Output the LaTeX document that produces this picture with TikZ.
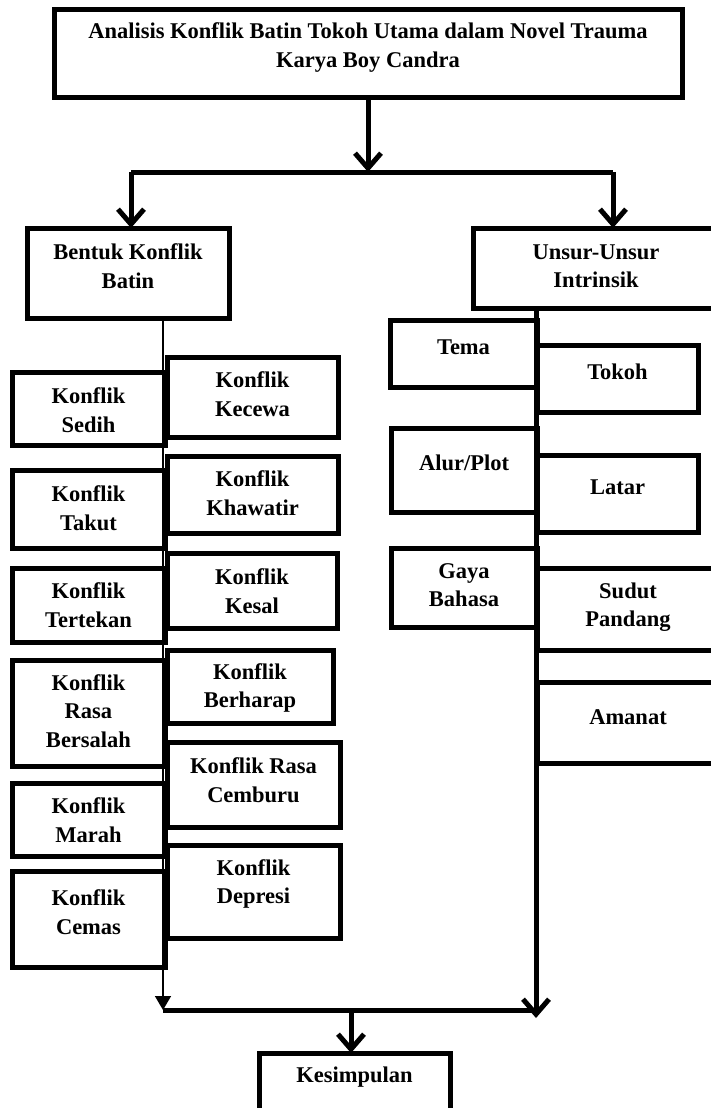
\documentclass[tikz,border=0pt]{standalone}
\usepackage{fontspec}
\setmainfont{Liberation Serif}
\usetikzlibrary{arrows.meta}
\newcommand{\bbox}[7]{%
 \node[bx, minimum width={(#4)-(#2)}, minimum height={(#5)-(#3)}] (#1) at ({((#2)+(#4))/2},{((#3)+(#5))/2}) {};
 \node[txt] (#1-t) at ({((#2)+(#4))/2},#6) {#7};}
\begin{document}
\begin{tikzpicture}[x=1pt,y=-1pt,
 bx/.style={draw, line width=5pt, inner sep=0pt, outer sep=0pt},
 txt/.style={font=\fontsize{22.5}{28.5}\selectfont\bfseries, align=center, inner sep=0pt},
 ln/.style={line width=5pt},
 arr/.style={line width=5pt, -{Straight Barb[length=15pt,width=26pt]}},
 thinarr/.style={line width=1.5pt, -{Triangle[length=14pt,width=16pt]}}]
\path[use as bounding box, clip] (0,0) rectangle (711,1108);
\fill[white] (0,0) rectangle (711,1108);
% title
\bbox{top}{54}{10}{682}{97}{47.5}{Analisis Konflik Batin Tokoh Utama dalam Novel Trauma\\Karya Boy Candra}
\bbox{bentuk}{27}{228}{229}{318}{266}{Bentuk Konflik\\Batin}
\bbox{unsur}{473}{228}{719}{308}{266}{Unsur-Unsur\\Intrinsik}
% left column
\bbox{sedih}{12}{372}{165}{445}{410}{Konflik\\Sedih}
\bbox{takut}{12}{470}{165}{548}{508}{Konflik\\Takut}
\bbox{tertekan}{12}{568}{165}{642}{605}{Konflik\\Tertekan}
\bbox{bersalah}{12}{660}{165}{766}{711}{Konflik\\Rasa\\Bersalah}
\bbox{marah}{12}{783}{165}{856}{820}{Konflik\\Marah}
\bbox{cemas}{12}{871}{165}{967}{912}{Konflik\\Cemas}
% second column
\bbox{kecewa}{167}{357}{338}{437}{394}{Konflik\\Kecewa}
\bbox{khawatir}{167}{456}{338}{533}{493}{Konflik\\Khawatir}
\bbox{kesal}{167}{553}{337}{628}{591}{Konflik\\Kesal}
\bbox{berharap}{167}{650}{333}{723}{688}{Konflik\\Berharap}
\bbox{cemburu}{167}{742}{340}{827}{780}{Konflik Rasa\\Cemburu}
\bbox{depresi}{167}{845}{340}{938}{884}{Konflik\\Depresi}
% unsur columns
\bbox{tema}{390}{320}{537}{387}{347}{Tema}
\bbox{alur}{391}{428}{537}{512}{463}{Alur/Plot}
\bbox{gaya}{391}{548}{537}{627}{585}{Gaya\\Bahasa}
\bbox{tokoh}{537}{345}{698}{412}{372}{Tokoh}
\bbox{latar}{537}{455}{698}{532}{487}{Latar}
\bbox{sudut}{537}{568}{719}{650}{607}{Sudut\\Pandang}
\bbox{amanat}{537}{682}{719}{763}{717}{Amanat}
% conclusion
\bbox{kes}{259}{1053}{450}{1135}{1077}{Kesimpulan}
% connectors
\coordinate (jm) at (368,172);
\coordinate (jl) at (131,172);
\coordinate (jr) at (613,172);
\draw[arr] (top.south -| jm) -- (jm);
\draw[ln] (jl) -- (jr);
\draw[arr] (jl) -- (jl |- bentuk.north);
\draw[arr] (jr) -- (jr |- unsur.north);
\coordinate (bl) at (163,1010);
\coordinate (br) at (536,1010);
\coordinate (bre) at (536,1018);
\coordinate (bm) at (351,1010);
\draw[thinarr] (bentuk.south -| bl) -- (bl);
\draw[ln] (bl) -- (br);
\draw[arr] (unsur.south -| br) -- (bre);
\draw[arr] (bm) -- (bm |- kes.north);
\end{tikzpicture}
\end{document}
